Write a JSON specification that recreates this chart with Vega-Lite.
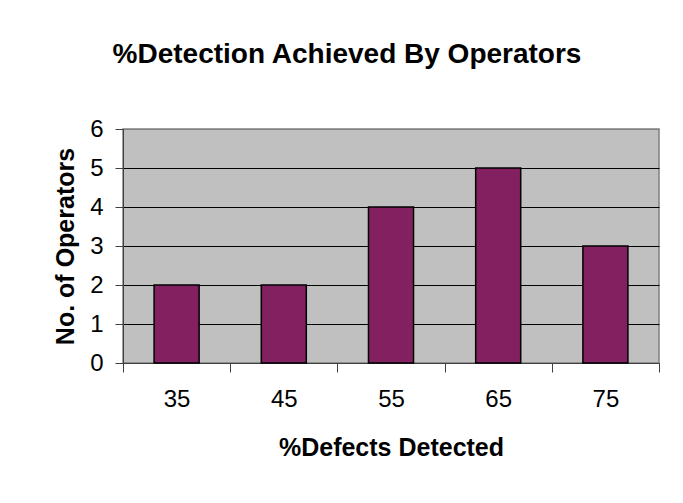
{
  "$schema": "https://vega.github.io/schema/vega-lite/v6.json",
  "width": 536,
  "height": 234,
  "autosize": {"type": "none"},
  "padding": {"left": 123, "top": 129, "right": 24, "bottom": 140},
  "background": "white",
  "title": {
    "text": "%Detection Achieved By Operators",
    "font": "Liberation Sans",
    "fontSize": 28,
    "fontWeight": "bold",
    "color": "black",
    "anchor": "middle",
    "frame": "group",
    "dx": -44,
    "offset": 48
  },
  "data": {
    "values": [
      {"pct": "35", "operators": 2},
      {"pct": "45", "operators": 2},
      {"pct": "55", "operators": 4},
      {"pct": "65", "operators": 5},
      {"pct": "75", "operators": 3}
    ]
  },
  "mark": {"type": "bar", "color": "#822060", "stroke": "black", "strokeWidth": 1.5, "width": {"band": 0.42}},
  "encoding": {
    "x": {
      "field": "pct",
      "type": "ordinal",
      "sort": null,
      "scale": {"paddingInner": 0, "paddingOuter": 0},
      "axis": {
        "title": "%Defects Detected",
        "labelAngle": 0,
        "tickBand": "extent",
        "grid": false,
        "labelFont": "Liberation Sans",
        "labelFontSize": 24,
        "labelColor": "black",
        "labelPadding": 15,
        "tickSize": 9,
        "tickColor": "#404040",
        "domainColor": "#404040",
        "titleFont": "Liberation Sans",
        "titleFontSize": 25,
        "titleFontWeight": "bold",
        "titleColor": "black",
        "titlePadding": 24
      }
    },
    "y": {
      "field": "operators",
      "type": "quantitative",
      "scale": {"domain": [0, 6], "nice": false},
      "axis": {
        "title": "No. of Operators",
        "values": [0, 1, 2, 3, 4, 5, 6],
        "grid": true,
        "gridColor": {"condition": {"test": "datum.value == 6", "value": "#808080"}, "value": "black"},
        "gridOpacity": 1,
        "labelFont": "Liberation Sans",
        "labelFontSize": 24,
        "labelColor": "black",
        "labelPadding": 12,
        "tickSize": 8,
        "tickColor": "#404040",
        "domainColor": "#404040",
        "titleFont": "Liberation Sans",
        "titleFontSize": 25,
        "titleFontWeight": "bold",
        "titleColor": "black",
        "titlePadding": 11
      }
    }
  },
  "config": {
    "view": {"fill": "#C0C0C0", "stroke": "#808080", "strokeWidth": 1.5}
  }
}
